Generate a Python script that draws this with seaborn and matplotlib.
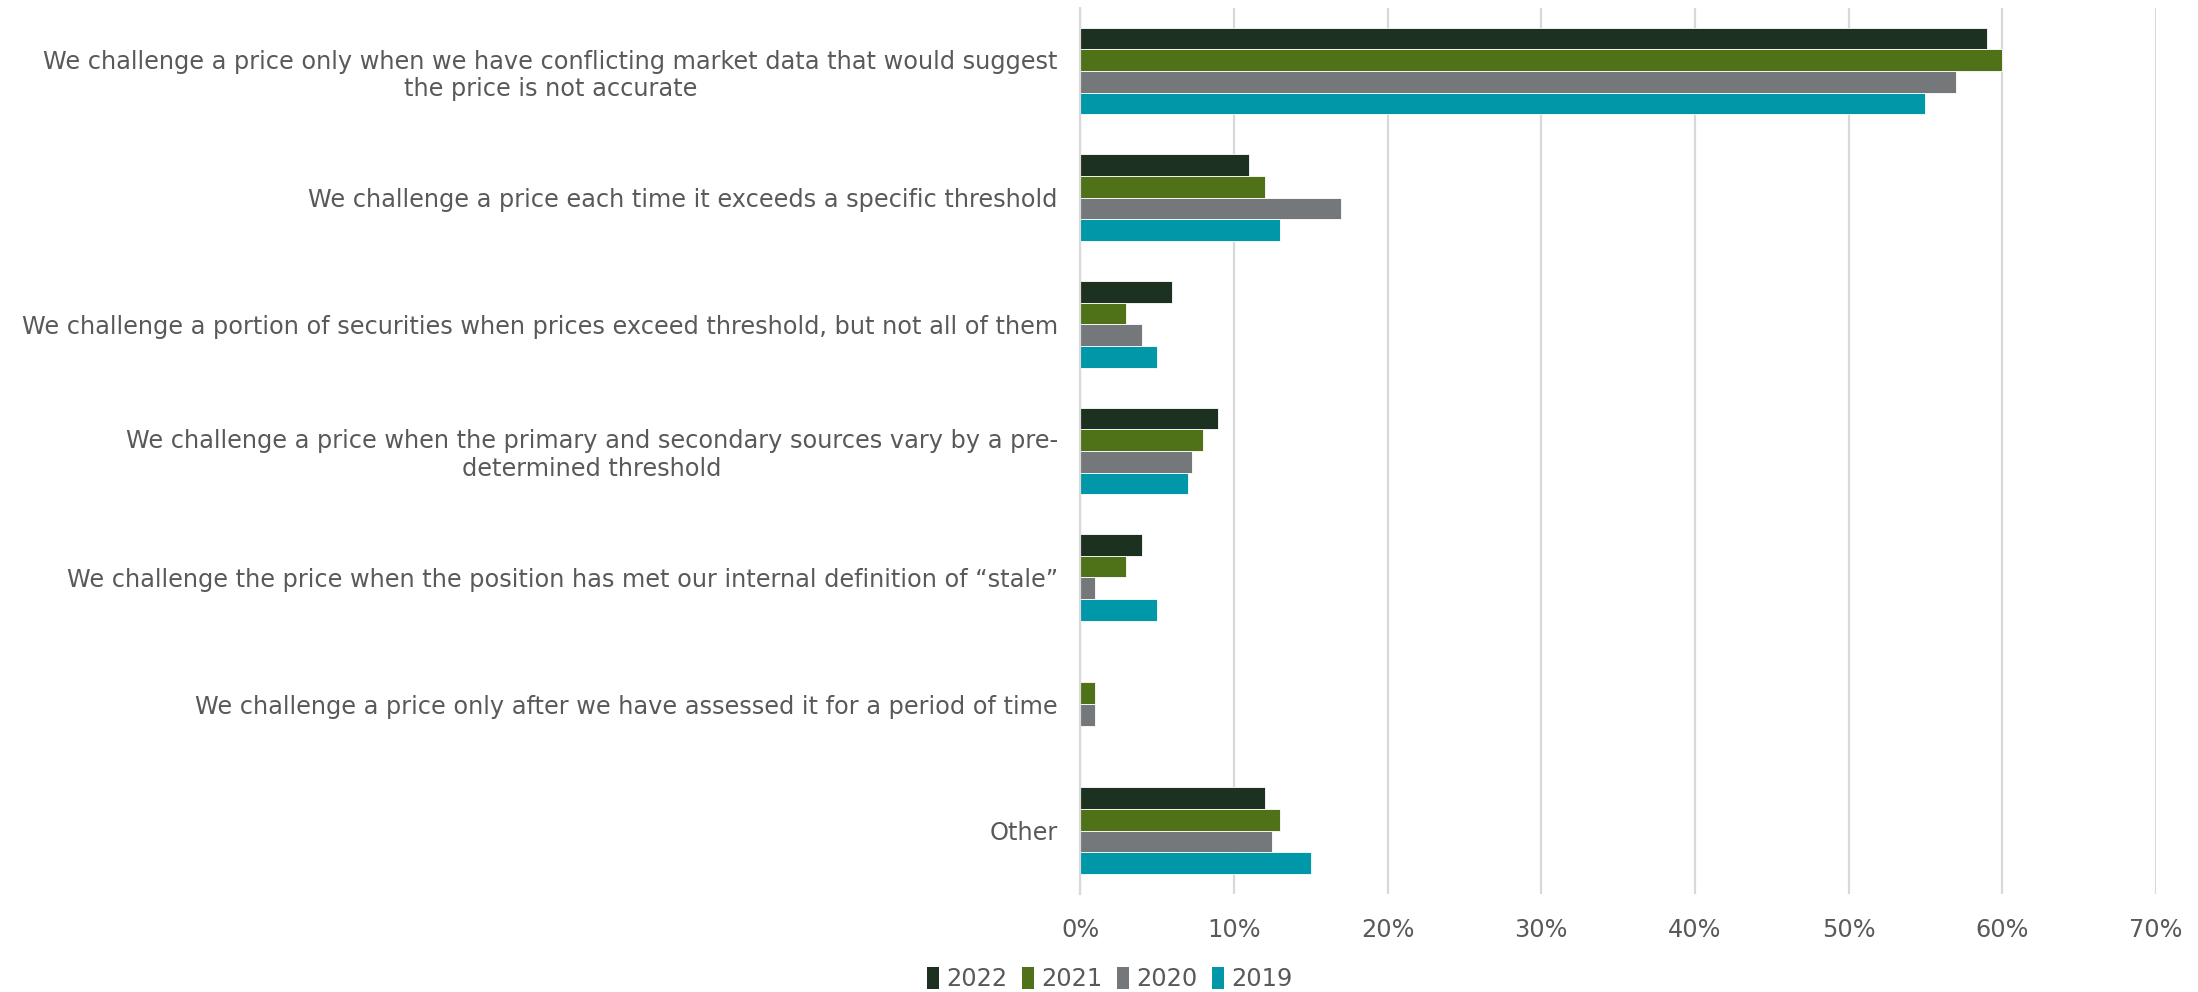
import matplotlib
matplotlib.use("Agg")
import matplotlib.pyplot as plt
import seaborn as sns
import pandas as pd
from matplotlib.patches import Patch
from matplotlib.ticker import PercentFormatter

categories = [
    "We challenge a price only when we have conflicting market data that would suggest\nthe price is not accurate",
    "We challenge a price each time it exceeds a specific threshold",
    "We challenge a portion of securities when prices exceed threshold, but not all of them",
    "We challenge a price when the primary and secondary sources vary by a pre-\ndetermined threshold",
    "We challenge the price when the position has met our internal definition of \u201cstale\u201d",
    "We challenge a price only after we have assessed it for a period of time",
    "Other",
]
years = ["2022", "2021", "2020", "2019"]
values_2022 = [59, 11, 6, 9, 4, 0, 12]
values_2021 = [60, 12, 3, 8, 3, 1, 13]
values_2020 = [57, 17, 4, 7.3, 1, 1, 12.5]
values_2019 = [55, 13, 5, 7, 5, 0, 15]
colors = ["#1C3120", "#4F7118", "#75787B", "#0097A9"]

series = {"2022": values_2022, "2021": values_2021, "2020": values_2020, "2019": values_2019}
rows = []
for yr in years:
    for cat, v in zip(categories, series[yr]):
        rows.append({"category": cat, "year": yr, "value": v})
df = pd.DataFrame(rows)

sns.set_theme(style="white")
plt.rcParams["font.family"] = ["DejaVu Sans"]
text_color = "#595959"
fs = 17.3

fig = plt.figure(figsize=(21.98, 9.92), dpi=100)
ax = fig.add_axes([0.4914, 0.0988, 0.9809 - 0.4914, 0.9922 - 0.0988])

sns.barplot(
    data=df, y="category", x="value", hue="year", order=categories,
    hue_order=years, palette=colors, orient="h", width=0.684,
    edgecolor="white", linewidth=0.6, ax=ax, legend=False, saturation=1,
)

ax.set_xlim(0, 70)
ax.set_ylim(6.5, -0.5)
ax.set_xticks(range(0, 71, 10))
ax.xaxis.set_major_formatter(PercentFormatter(decimals=0))
ax.grid(axis="x", color="#D9D9D9", linewidth=1.6)
ax.grid(axis="y", visible=False)
ax.set_axisbelow(True)
for side in ["top", "right", "bottom"]:
    ax.spines[side].set_visible(False)
ax.spines["left"].set_color("#D9D9D9")
ax.spines["left"].set_linewidth(1.6)
ax.set_xlabel("")
ax.set_ylabel("")
ax.tick_params(axis="x", length=0, pad=17, labelsize=fs, labelcolor=text_color)
ax.tick_params(axis="y", length=0, pad=16, labelsize=fs, labelcolor=text_color)
for lbl in ax.get_yticklabels():
    lbl.set_multialignment("center")

handles = [Patch(facecolor=c, edgecolor="none", label=y) for c, y in zip(colors, years)]
fig.legend(
    handles=handles, loc="center", bbox_to_anchor=(0.505, 0.013), ncol=4,
    frameon=False, fontsize=fs, handlelength=0.5, handleheight=1.0,
    handletextpad=0.3, columnspacing=0.6, labelcolor=text_color,
    borderpad=0, borderaxespad=0,
)

fig.savefig("out.png", dpi=100)
